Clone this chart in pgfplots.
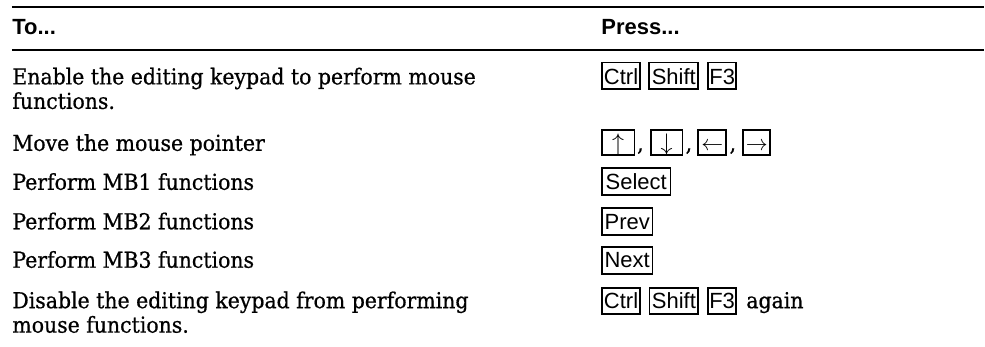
\documentclass[border=0pt]{standalone}
\usepackage{fontspec}
\usepackage{pgfplots}
\pgfplotsset{compat=1.18}
\setmainfont{DejaVu Serif}[FakeStretch=0.93,FakeBold=0.7]
\newfontfamily\sansf{Liberation Sans}
\newcommand\bodyf{\fontsize{11pt}{13pt}\selectfont}
\newcommand\keyf{\sansf\fontsize{11pt}{13pt}\selectfont}
\newcommand\headf{\sansf\bfseries\fontsize{11pt}{13pt}\selectfont}
% key box: x1 x2 ytop ybottom baseline text
\newcommand\key[6]{%
  \draw[line width=0.9pt] (axis cs:#1+0.9,#3+0.9) rectangle (axis cs:#2-0.9,#4-0.9);
  \node[anchor=base,inner sep=0pt,font=\keyf] at (axis cs:{(#1+#2)/2},#5) {#6};}
\newcommand\txt[3]{\node[anchor=base west,inner sep=0pt,font=\bodyf] at (axis cs:#1,#2) {#3};}
\begin{document}
\begin{tikzpicture}
\begin{axis}[scale only axis, width=492.5pt, height=173.5pt,
  xmin=0, xmax=985, ymin=0, ymax=347, y dir=reverse,
  hide axis, clip=false]
\path (axis cs:0,0) rectangle (axis cs:985,347);
% rules
\addplot[line width=1pt, no marks] coordinates {(12,7.5) (985,7.5)};
\addplot[line width=1pt, no marks] coordinates {(12,50.5) (985,50.5)};
% header
\node[anchor=base west,inner sep=0pt,font=\headf] at (axis cs:12,35) {To...};
\node[anchor=base west,inner sep=0pt,font=\headf] at (axis cs:601.7,35) {Press...};
% left column
\txt{12}{84.5}{Enable the editing keypad to perform mouse}
\txt{12}{109}{functions.}
\txt{12}{151}{Move the mouse pointer}
\txt{12}{190}{Perform MB1 functions}
\txt{12}{229.5}{Perform MB2 functions}
\txt{12}{268}{Perform MB3 functions}
\txt{12}{308.5}{Disable the editing keypad from performing}
\txt{12}{333}{mouse functions.}
% right column
\key{601.7}{641.7}{61.7}{90}{84.5}{Ctrl}
\key{649}{700}{61.7}{90}{84.5}{Shift}
\key{708}{738}{61.7}{90}{84.5}{F3}
\key{601.7}{636}{129}{155.7}{151}{\fontsize{12pt}{14pt}\selectfont$\uparrow$}
\txt{637.5}{151}{,}
\key{650.7}{684}{129}{155.7}{151}{\fontsize{12pt}{14pt}\selectfont$\downarrow$}
\txt{686}{151}{,}
\key{698}{728}{129}{155.7}{151}{$\leftarrow$}
\txt{730}{151}{,}
\key{743}{772}{129}{155.7}{151}{$\rightarrow$}
\key{601.7}{672}{167}{196}{190}{Select}
\key{601.7}{654}{207.7}{236}{229.5}{Prev}
\key{601.7}{654}{246.5}{275}{268}{Next}
\key{601.7}{641.7}{287.7}{315}{308.5}{Ctrl}
\key{649.3}{700}{287.7}{315}{308.5}{Shift}
\key{708}{737.7}{287.7}{315}{308.5}{F3}
\txt{746.7}{308.5}{again}
\end{axis}
\end{tikzpicture}
\end{document}
